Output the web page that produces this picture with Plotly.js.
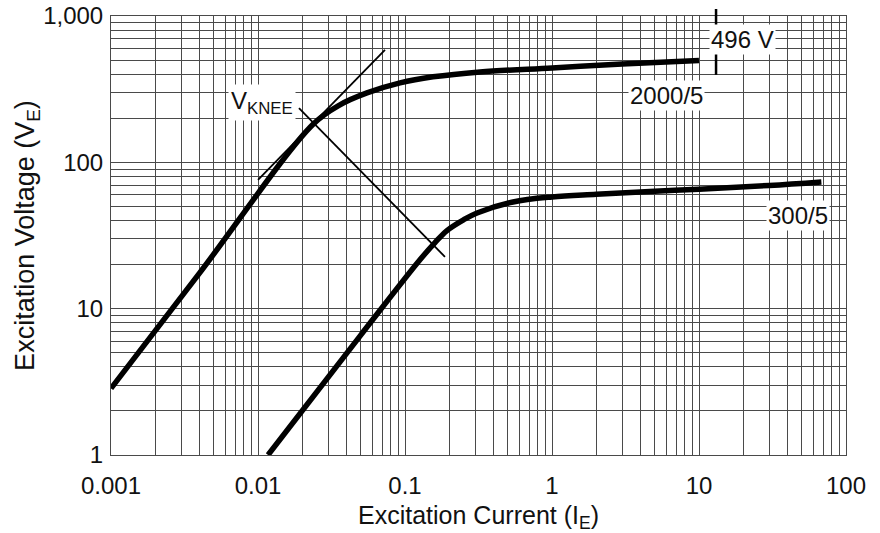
<!DOCTYPE html>
<html>
<head>
<meta charset="utf-8">
<script src="https://cdn.plot.ly/plotly-3.0.1.min.js"></script>
<style>html,body{margin:0;padding:0;background:#fff;}#chart{width:880px;height:533px;}</style>
</head>
<body>
<div id="chart"></div>
<script>
// Data
const current2000 = [0.001, 0.004, 0.0237, 0.0361, 0.0551, 0.0925, 0.155, 0.324, 1, 3, 10];
const voltage2000 = [2.85, 17.5, 182, 247, 298, 349, 384, 415, 442, 470, 496];
const current300 = [0.0117, 0.05, 0.126, 0.16, 0.193, 0.25, 0.309, 0.543, 1, 2, 5, 10, 30, 68];
const voltage300 = [1, 6.6, 21.5, 28.3, 34.2, 40.5, 45.1, 53.6, 58, 60.5, 63.5, 65.5, 69.5, 73.5];
const tangentCurrent = [0.01, 0.0731];
const tangentVoltage = [75.8, 587];
const kneeCurrent = [0.019, 0.187];
const kneeVoltage = [235, 22.6];
const markerCurrent = 13.06;
const xDecades = [0.001, 0.01, 0.1, 1, 10, 100];
const xTickLabels = ['0.001', '0.01', '0.1', '1', '10', '100'];
const yDecades = [1, 10, 100, 1000];
const yTickLabels = ['1', '10', '100', '1,000'];

function minorVals(decades) {
  const vals = [];
  for (let i = 0; i < decades.length - 1; i++) {
    for (let m = 2; m <= 9; m++) vals.push(decades[i] * m);
  }
  return vals;
}

const font = "'Liberation Sans', Arial, sans-serif";
const gridColor = '#4a4a4a';

const traces = [
  {x: current2000, y: voltage2000, mode: 'lines', line: {color: '#000', width: 5.5, shape: 'spline', smoothing: 1}, hoverinfo: 'skip'},
  {x: current300, y: voltage300, mode: 'lines', line: {color: '#000', width: 5.5, shape: 'spline', smoothing: 1}, hoverinfo: 'skip'},
  {x: tangentCurrent, y: tangentVoltage, mode: 'lines', line: {color: '#000', width: 1.8}, hoverinfo: 'skip'},
  {x: kneeCurrent, y: kneeVoltage, mode: 'lines', line: {color: '#000', width: 1.8}, hoverinfo: 'skip'}
];

const xmin = Math.log10(xDecades[0]), xmax = Math.log10(xDecades[xDecades.length - 1]);
const markerPaperX = (Math.log10(markerCurrent) - xmin) / (xmax - xmin);

const annFont = {family: font, size: 24, color: '#111'};
const layout = {
  width: 880, height: 533,
  margin: {l: 111, r: 34, t: 16, b: 78},
  paper_bgcolor: '#fff', plot_bgcolor: '#fff',
  showlegend: false,
  font: {family: font, color: '#111'},
  xaxis: {
    type: 'log', range: [xmin, xmax],
    tickmode: 'array', tickvals: xDecades, ticktext: xTickLabels,
    showgrid: true, gridcolor: gridColor, gridwidth: 1,
    minor: {tickmode: 'array', tickvals: minorVals(xDecades), showgrid: true, gridcolor: gridColor, gridwidth: 1, ticks: ''},
    showline: true, linecolor: gridColor, linewidth: 1, mirror: true,
    zeroline: false, ticks: '', ticklabelstandoff: 9,
    tickfont: {family: font, size: 24, color: '#111'},
    title: {text: 'Excitation Current (I<sub>E</sub>)', font: {family: font, size: 25, color: '#111'}, standoff: 8}
  },
  yaxis: {
    type: 'log', range: [0, 3],
    tickmode: 'array', tickvals: yDecades, ticktext: yTickLabels,
    showgrid: true, gridcolor: gridColor, gridwidth: 1,
    minor: {tickmode: 'array', tickvals: minorVals(yDecades), showgrid: true, gridcolor: gridColor, gridwidth: 1, ticks: ''},
    showline: true, linecolor: gridColor, linewidth: 1, mirror: true,
    zeroline: false, ticks: '', ticklabelstandoff: 2,
    tickfont: {family: font, size: 24, color: '#111'},
    title: {text: 'Excitation Voltage (V<sub>E</sub>)', font: {family: font, size: 27, color: '#111'}, standoff: 0}
  },
  shapes: [
    {type: 'line', xref: 'paper', yref: 'paper', x0: markerPaperX, x1: markerPaperX, y0: 1.016, y1: 0.866, line: {color: '#000', width: 2.5}}
  ],
  annotations: [
    {xref: 'x', yref: 'y', x: -1.973, y: 2.406, text: 'V<sub>KNEE</sub>', showarrow: false, bgcolor: '#fff', font: annFont, borderpad: 2},
    {xref: 'x', yref: 'y', x: 0.782, y: 2.454, text: '2000/5', showarrow: false, bgcolor: '#fff', font: annFont, borderpad: 1},
    {xref: 'x', yref: 'y', x: 1.299, y: 2.837, text: '496 V', showarrow: false, bgcolor: '#fff', font: annFont, borderpad: 1},
    {xref: 'x', yref: 'y', x: 1.673, y: 1.640, text: '300/5', showarrow: false, bgcolor: '#fff', font: annFont, borderpad: 1}
  ]
};

Plotly.newPlot('chart', traces, layout, {staticPlot: true, displayModeBar: false});
</script>
</body>
</html>
